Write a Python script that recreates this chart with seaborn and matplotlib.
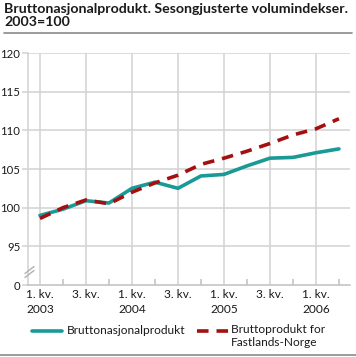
import matplotlib
matplotlib.use("Agg")
import matplotlib.pyplot as plt
import seaborn as sns
import pandas as pd
from matplotlib.lines import Line2D

# data (index values, 2003=100)
quarters = ["2003K1", "2003K2", "2003K3", "2003K4",
            "2004K1", "2004K2", "2004K3", "2004K4",
            "2005K1", "2005K2", "2005K3", "2005K4",
            "2006K1", "2006K2"]
bnp = [99.0, 99.8, 100.9, 100.6, 102.5, 103.3, 102.5, 104.1,
       104.3, 105.4, 106.4, 106.5, 107.1, 107.6]
fastland = [98.6, 100.0, 101.0, 100.5, 102.0, 103.2, 104.2, 105.6,
            106.4, 107.3, 108.3, 109.4, 110.2, 111.5]
series_names = ["Bruttonasjonalprodukt", "Bruttoprodukt for\nFastlands-Norge"]
xtick_labels = ["1. kv.\n2003", "3. kv.", "1. kv.\n2004", "3. kv.",
                "1. kv.\n2005", "3. kv.", "1. kv.\n2006"]
ytick_values = [90, 95, 100, 105, 110, 115, 120]
ytick_labels = ["0", "95", "100", "105", "110", "115", "120"]

teal = "#1a9a96"
red = "#a3100f"
grid = "#d2d2d2"
txt = "#1a1a1a"

sns.set_theme(style="white")
plt.rcParams["font.family"] = ["Lato", "DejaVu Sans"]
FS = 8.6

df = pd.DataFrame({
    "pos": list(range(len(quarters))) * 2,
    "value": bnp + fastland,
    "series": [series_names[0]] * len(bnp) + [series_names[1]] * len(fastland),
})

W, H = 356, 357
fig = plt.figure(figsize=(W / 100, H / 100), dpi=100)
ax = fig.add_axes([28 / W, 1 - 285 / H, (350 - 28) / W, (285 - 53) / H])

sns.lineplot(data=df[df.series == series_names[0]], x="pos", y="value",
             color=teal, lw=2.6, ax=ax, zorder=3)
sns.lineplot(data=df[df.series == series_names[1]], x="pos", y="value",
             color=red, lw=2.6, ax=ax, zorder=4)
ax.lines[1].set_dashes([3.2, 2.2])

ax.set_xlim(-0.52, 13.48)
ax.set_ylim(90, 120)
ax.set_xlabel("")
ax.set_ylabel("")

ax.set_yticks(ytick_values)
ax.set_yticklabels(ytick_labels, fontsize=8.2, color=txt)
ax.set_xticks(range(0, 14, 2))
ax.set_xticklabels(xtick_labels, fontsize=FS, color=txt, linespacing=1.4)
ax.set_xticks(range(1, 14, 2), minor=True)

# grid: horizontal lines at the y ticks, vertical at the labelled quarters
for v in ytick_values[1:]:
    ax.axhline(v, color=grid, lw=1.1, zorder=1)
for p in range(0, 14, 2):
    ax.axvline(p, color=grid, lw=1.1, zorder=1)

for s in ["top", "right"]:
    ax.spines[s].set_visible(False)
ax.spines["left"].set_color(grid)
ax.spines["bottom"].set_color("#c0c0c0")
ax.spines["left"].set_linewidth(1.1)
ax.spines["bottom"].set_linewidth(1.1)

ax.tick_params(axis="y", length=4, width=1.1, color=grid, pad=1.5, left=True)
ax.tick_params(axis="x", which="major", length=0, pad=3)
ax.tick_params(axis="x", which="minor", length=4, width=1.1, color="#c0c0c0",
               direction="in", bottom=True)
for lab in ax.get_xticklabels():
    lab.set_multialignment("left")

# axis break marks on the y axis
for dy in (0, 4):
    y0 = 1 - (270 - 53 + dy) / (285 - 53)
    ax.plot([-3 / 322, 6 / 322], [y0 - 0.015, y0 + 0.015], transform=ax.transAxes,
            color="#b0b0b0", lw=1.0, clip_on=False, zorder=5)

# title and rules
fig.text(4 / W, 1 - 3 / H, "Bruttonasjonalprodukt. Sesongjusterte volumindekser.\n2003=100",
         fontsize=10.2, fontweight="bold", color=txt, va="top", ha="left",
         linespacing=1.15)
fig.add_artist(Line2D([4 / W, 352 / W], [1 - 33 / H] * 2, color="#8a8a8a", lw=1.2))
fig.add_artist(Line2D([0, 1], [1 - 355 / H] * 2, color="#8a8a8a", lw=1.2))

# legend
fig.add_artist(Line2D([32 / W, 62 / W], [1 - 331 / H] * 2, color=teal, lw=2.6))
fig.text(67 / W, 1 - 331 / H, series_names[0], fontsize=FS, color=txt,
         va="center", ha="left")
fig.add_artist(Line2D([197 / W, 229 / W], [1 - 331 / H] * 2, color=red, lw=2.6,
                      dashes=[3.2, 2.2]))
fig.text(231 / W, 1 - 324 / H, series_names[1], fontsize=FS, color=txt,
         va="top", ha="left", linespacing=1.25)

fig.savefig("out.png", dpi=100)
